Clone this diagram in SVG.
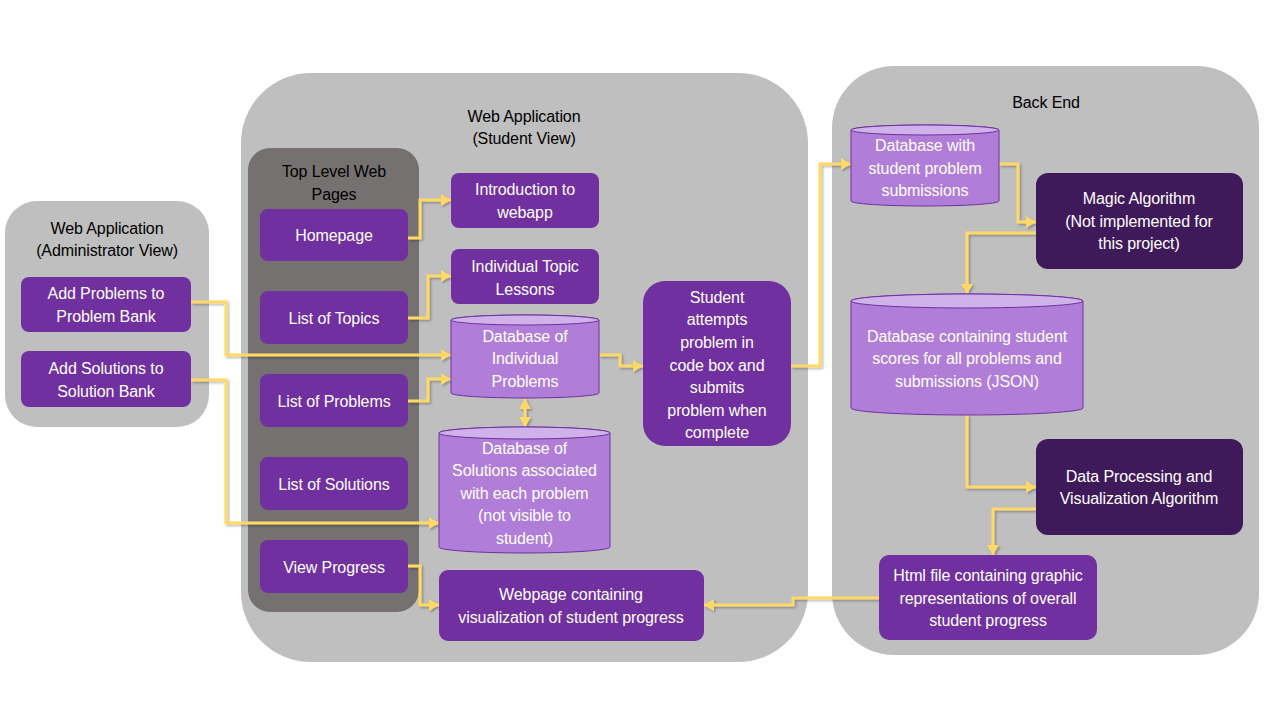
<svg xmlns="http://www.w3.org/2000/svg" width="1280" height="720" viewBox="0 0 1280 720">
<defs>
<style>
.cont{fill:#BFBFBF}
.top{fill:#767171}
.node{fill:#7030A0}
.dark{fill:#3F1A5A}
.cyl{fill:#B07ED9;stroke:#7030A0;stroke-width:1}
.cyltop{fill:#CFB2EA;stroke:#7030A0;stroke-width:1}
text{font-family:"Liberation Sans",Arial,sans-serif;font-size:16px;text-anchor:middle;letter-spacing:-0.1px}
.w{fill:#FFFFFF}
.k{fill:#000000}
.con{fill:none;stroke:#FFD966;stroke-width:3;stroke-linejoin:miter}
</style>
<marker id="ah" markerUnits="userSpaceOnUse" markerWidth="12" markerHeight="12" refX="10" refY="6" orient="auto">
<path d="M0,0 L10,6 L0,12 Z" fill="#FFD966"/>
</marker>
<marker id="as" markerUnits="userSpaceOnUse" markerWidth="12" markerHeight="12" refX="0" refY="6" orient="auto">
<path d="M10,0 L0,6 L10,12 Z" fill="#FFD966"/>
</marker>
<filter id="sh" x="-10%" y="-10%" width="120%" height="120%">
<feDropShadow dx="1.5" dy="1.5" stdDeviation="1" flood-color="#000" flood-opacity="0.3"/>
</filter>
</defs>
<rect width="1280" height="720" fill="#FFFFFF"/>

<g id="admin-container">
<rect class="cont" x="5" y="201" width="204" height="226" rx="32"/>
<text class="k" x="107" y="233.5">Web Application</text>
<text class="k" x="107" y="255.5">(Administrator View)</text>
</g>
<g id="student-container">
<rect class="cont" x="241" y="73" width="567" height="589" rx="70"/>
<text class="k" x="524" y="121.5">Web Application</text>
<text class="k" x="524" y="143.5">(Student View)</text>
</g>
<g id="backend-container">
<rect class="cont" x="832" y="66" width="427" height="589" rx="62"/>
<text class="k" x="1046" y="107.5">Back End</text>
</g>
<g id="top-level-pages">
<rect class="top" x="248" y="148" width="171" height="464" rx="22"/>
<text class="k" x="334" y="176.5">Top Level Web</text>
<text class="k" x="334" y="199.5">Pages</text>
</g>

<g id="connectors" filter="url(#sh)">
<path class="con" d="M408,238 H420 V200 H451" marker-end="url(#ah)"/>
<path class="con" d="M408,318 H428 V276 H451" marker-end="url(#ah)"/>
<path class="con" d="M408,401 H428 V379 H451" marker-end="url(#ah)"/>
<path class="con" d="M191,302 H226 V355 H451" marker-end="url(#ah)"/>
<path class="con" d="M191,380 H226 V523 H439" marker-end="url(#ah)"/>
<path class="con" d="M525,399 V427" marker-start="url(#as)" marker-end="url(#ah)"/>
<path class="con" d="M599,355 H620 V366 H643" marker-end="url(#ah)"/>
<path class="con" d="M791,366 H820 V164 H851" marker-end="url(#ah)"/>
<path class="con" d="M999,164 H1018 V222 H1036" marker-end="url(#ah)"/>
<path class="con" d="M1043,233 H967 V294" marker-end="url(#ah)"/>
<path class="con" d="M967,415 V487 H1036" marker-end="url(#ah)"/>
<path class="con" d="M1036,509 H993 V555" marker-end="url(#ah)"/>
<path class="con" d="M879,598 H793 V605 H704" marker-end="url(#ah)"/>
<path class="con" d="M408,566 H420 V605 H439" marker-end="url(#ah)"/>
</g>

<g id="add-problems">
<rect class="node" x="21" y="277" width="170" height="55" rx="8"/>
<text class="w" x="106" y="298.5">Add Problems to</text>
<text class="w" x="106" y="321.5">Problem Bank</text>
</g>
<g id="add-solutions">
<rect class="node" x="21" y="351" width="170" height="56" rx="8"/>
<text class="w" x="106" y="373.5">Add Solutions to</text>
<text class="w" x="106" y="396.5">Solution Bank</text>
</g>

<g id="homepage">
<rect class="node" x="260" y="209" width="148" height="52" rx="8"/>
<text class="w" x="334" y="240.5">Homepage</text>
</g>
<g id="list-topics">
<rect class="node" x="260" y="291" width="148" height="53" rx="8"/>
<text class="w" x="334" y="323.5">List of Topics</text>
</g>
<g id="list-problems">
<rect class="node" x="260" y="374" width="148" height="53" rx="8"/>
<text class="w" x="334" y="406.5">List of Problems</text>
</g>
<g id="list-solutions">
<rect class="node" x="260" y="457" width="148" height="53" rx="8"/>
<text class="w" x="334" y="489.5">List of Solutions</text>
</g>
<g id="view-progress">
<rect class="node" x="260" y="540" width="148" height="53" rx="8"/>
<text class="w" x="334" y="572.5">View Progress</text>
</g>

<g id="intro">
<rect class="node" x="451" y="173" width="148" height="55" rx="8"/>
<text class="w" x="525" y="194.5">Introduction to</text>
<text class="w" x="525" y="217.5">webapp</text>
</g>
<g id="topic-lessons">
<rect class="node" x="451" y="249" width="148" height="55" rx="8"/>
<text class="w" x="525" y="271.5">Individual Topic</text>
<text class="w" x="525" y="294.5">Lessons</text>
</g>
<g id="db-problems">
<path class="cyl" d="M451,320 A74,5 0 0 1 599,320 V393 A74,5 0 0 1 451,393 Z"/>
<ellipse class="cyltop" cx="525" cy="320" rx="74" ry="5"/>
<text class="w" x="525" y="341.5">Database of</text>
<text class="w" x="525" y="363.5">Individual</text>
<text class="w" x="525" y="386.5">Problems</text>
</g>
<g id="db-solutions">
<path class="cyl" d="M439,433 A85.5,6 0 0 1 610,433 V547 A85.5,6 0 0 1 439,547 Z"/>
<ellipse class="cyltop" cx="524.5" cy="433" rx="85.5" ry="6"/>
<text class="w" x="524.5" y="453.5">Database of</text>
<text class="w" x="524.5" y="475.5">Solutions associated</text>
<text class="w" x="524.5" y="498.5">with each problem</text>
<text class="w" x="524.5" y="520.5">(not visible to</text>
<text class="w" x="524.5" y="543.5">student)</text>
</g>
<g id="student-attempts">
<rect class="node" x="643" y="281" width="148" height="165" rx="22"/>
<text class="w" x="717" y="302.5">Student</text>
<text class="w" x="717" y="324.5">attempts</text>
<text class="w" x="717" y="347.5">problem in</text>
<text class="w" x="717" y="370.5">code box and</text>
<text class="w" x="717" y="392.5">submits</text>
<text class="w" x="717" y="415.5">problem when</text>
<text class="w" x="717" y="437.5">complete</text>
</g>
<g id="webpage-visualization">
<rect class="node" x="439" y="570" width="265" height="71" rx="9"/>
<text class="w" x="571" y="599.5">Webpage containing</text>
<text class="w" x="571" y="622.5">visualization of student progress</text>
</g>

<g id="db-submissions">
<path class="cyl" d="M851,130 A74,5 0 0 1 999,130 V201 A74,5 0 0 1 851,201 Z"/>
<ellipse class="cyltop" cx="925" cy="130" rx="74" ry="5"/>
<text class="w" x="925" y="150.5">Database with</text>
<text class="w" x="925" y="173.5">student problem</text>
<text class="w" x="925" y="195.5">submissions</text>
</g>
<g id="magic-algorithm">
<rect class="dark" x="1036" y="173" width="207" height="96" rx="12"/>
<text class="w" x="1139" y="203.5">Magic Algorithm</text>
<text class="w" x="1139" y="226.5">(Not implemented for</text>
<text class="w" x="1139" y="248.5">this project)</text>
</g>
<g id="db-scores">
<path class="cyl" d="M851,301 A116,7 0 0 1 1083,301 V408 A116,7 0 0 1 851,408 Z"/>
<ellipse class="cyltop" cx="967" cy="301" rx="116" ry="7"/>
<text class="w" x="967" y="341.5">Database containing student</text>
<text class="w" x="967" y="363.5">scores for all problems and</text>
<text class="w" x="967" y="386.5">submissions (JSON)</text>
</g>
<g id="data-processing">
<rect class="dark" x="1036" y="439" width="207" height="96" rx="12"/>
<text class="w" x="1139" y="481.5">Data Processing and</text>
<text class="w" x="1139" y="503.5">Visualization Algorithm</text>
</g>
<g id="html-file">
<rect class="node" x="879" y="555" width="218" height="85" rx="10"/>
<text class="w" x="988" y="580.5">Html file containing graphic</text>
<text class="w" x="988" y="603.5">representations of overall</text>
<text class="w" x="988" y="625.5">student progress</text>
</g>
</svg>
